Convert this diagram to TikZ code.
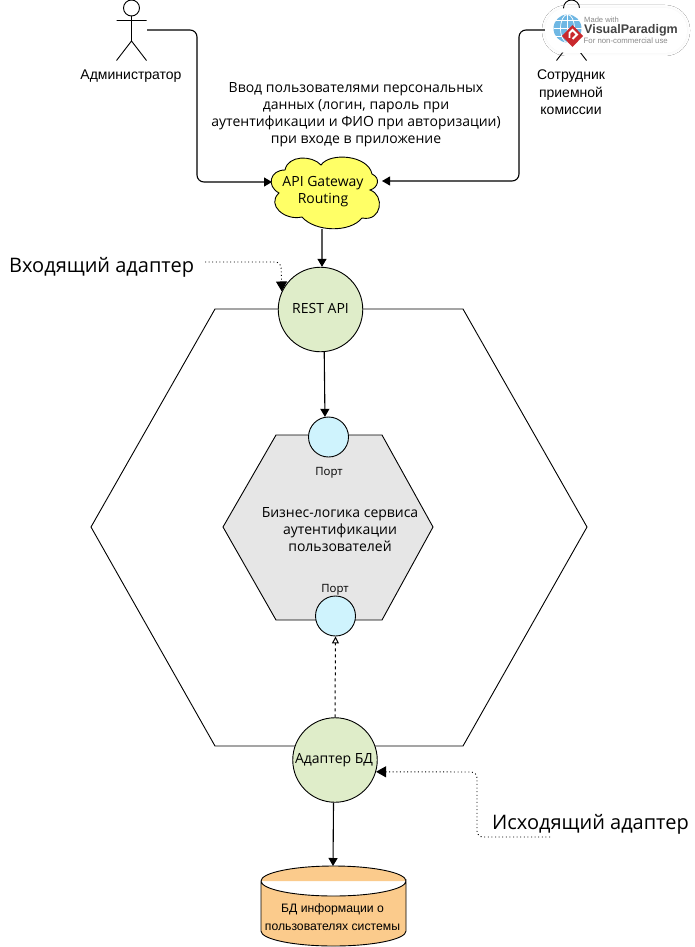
\documentclass[tikz,border=0pt]{standalone}
\usepackage{fontspec}
\setmainfont{Open Sans}
\newfontfamily\armo{Liberation Sans}
\usetikzlibrary{arrows.meta,shadows.blur}
\definecolor{adapterfill}{HTML}{DFEDC9}
\definecolor{portfill}{HTML}{CFF3FD}
\definecolor{corefill}{HTML}{E6E6E6}
\definecolor{cloudfill}{HTML}{FFFF66}
\definecolor{dbfill}{HTML}{FBCB8C}
\definecolor{vpred}{HTML}{C9282D}
\definecolor{vpblue}{HTML}{6FB7E3}
\definecolor{vpgrey}{HTML}{8A8A8A}
\definecolor{vpdark}{HTML}{444444}
\tikzset{
  x=1pt,y=-1pt,
  ln/.style={draw=black,line width=0.9pt},
  conn/.style={draw=black,line width=1.1pt,-{Triangle[length=8pt,width=9pt]},rounded corners=7pt},
  dotconn/.style={draw=black,line width=0.9pt,dash pattern=on 1pt off 2.6pt,-{Triangle[length=10pt,width=11pt,sep=0pt]},rounded corners=6pt},
  adapter/.style={circle,ln,fill=adapterfill,inner sep=0pt,minimum size=84.5pt,align=center,font=\fontsize{14}{16}\selectfont},
  portc/.style={circle,ln,fill=portfill,inner sep=0pt,minimum size=40pt},
  lab/.style={align=center,inner sep=0pt,font=\fontsize{14}{17}\selectfont},
  small/.style={inner sep=0pt,font=\fontsize{11.4}{13}\selectfont},
  big/.style={inner sep=0pt,anchor=west,font=\fontsize{20}{24}\selectfont},
  actorlab/.style={align=center,inner sep=0pt,font=\armo\fontsize{14}{17.3}\selectfont},
  actor/.style={draw=black,line width=0.9pt},
}
\begin{document}
\begin{tikzpicture}
\useasboundingbox (0,0) rectangle (694,947);
\fill[white] (0,0) rectangle (694,947);

% outer hexagon
\draw[ln] (91,527) -- (215,309) -- (463,309) -- (587,527) -- (463,746) -- (215,746) -- cycle;
% inner hexagon
\draw[ln,fill=corefill] (223,527) -- (276,435) -- (382,435) -- (433,527) -- (382,620) -- (276,620) -- cycle;

% actors
\draw[actor] (131.5,8) circle[radius=8];
\draw[actor] (131.5,16) -- (131.5,41) (116.5,20.5) -- (146.5,20.5) (116.5,60.5) -- (131.5,41) -- (146.5,60.5);
\node[actorlab] (admin) at (131,76.5) {Администратор};
\draw[actor] (571.5,8) circle[radius=8];
\draw[actor] (556.5,60.5) -- (571.5,41) -- (586.5,60.5);
\node[actorlab] (staff) at (571,92.3) {Сотрудник\\приемной\\комиссии};
\coordinate (adminR) at (147,30);
\coordinate (staffL) at (546,30);

% cloud
\draw[ln,fill=cloudfill] (279,193)
  .. controls (266,186) and (270,170) .. (285,170)
  .. controls (288,155) and (312,155) .. (321,165)
  .. controls (330,152) and (368,155) .. (372,174)
  .. controls (381,178) and (378,188) .. (370,190)
  .. controls (385,195) and (382,222) .. (362,218)
  .. controls (350,233) and (315,232) .. (302,217)
  .. controls (285,221) and (266,205) .. (279,193) -- cycle;
\node[align=center,inner sep=0pt,font=\fontsize{14}{17}\selectfont] (gw) at (323,192) {API Gateway\\Routing};
\coordinate (gwW) at (272,182);
\coordinate (gwE) at (382,181);
\coordinate (gwS) at (322,229);

% text
\node[lab] (input) at (356,115) {Ввод пользователями персональных\\данных (логин, пароль при\\аутентификации и ФИО при авторизации)\\при входе в приложение};

% adapters and ports
\node[adapter] (rest) at (320.5,309.5) {\raisebox{1.5pt}{REST API}};
\node[adapter] (dbad) at (335,760) {\hspace*{-2pt}\raisebox{-0.5pt}{Адаптер БД}};
\node[portc] (portA) at (328.5,437) {};
\node[portc] (portB) at (335.5,616) {};
\node[small] (portAl) at (329,472.5) {Порт};
\node[small] (portBl) at (335,589.5) {Порт};
\node[lab] (core) at (340,530) {Бизнес-логика сервиса\\аутентификации\\пользователей};

% database
\coordinate (dbT) at (333,866);
\draw[ln,fill=dbfill] (261,881) -- (261,931) arc[start angle=180,end angle=360,x radius=72.5,y radius=-15] -- (406,881) arc[start angle=0,end angle=360,x radius=72.5,y radius=15];
\node[actorlab,font=\armo\fontsize{12.2}{17.5}\selectfont] (db) at (332.5,917) {БД информации о\\пользователях системы};

% side labels
\node[big] (inLab) at (9,267) {Входящий адаптер};
\node[big] (outLab) at (492,824) {Исходящий адаптер};
\coordinate (inS) at (205,262);
\coordinate (outS) at (550,837);

% connectors
\draw[conn] (adminR) -- (197,30) -- (197,182) -- (gwW);
\draw[conn] (staffL) -- (519,30) -- (519,181) -- (gwE);
\draw[conn] (gwS) -- (rest.88);
\draw[conn] (rest.-85) -- (portA.100);
\draw[ln,line width=1pt,dashed,-{Triangle[open,length=7pt,width=7pt]}] (dbad.north) -- (portB.south);
\draw[conn] (dbad.-92) -- (dbT);
\draw[dotconn] (inS) -- (281,262) -- (rest.155);
\draw[dotconn] (outS) -- (477,837) -- (477,772) -- (dbad.-16);

% watermark
\node[fill=white,rounded corners=22pt,minimum width=142pt,minimum height=45pt,inner sep=0pt,blur shadow={shadow blur steps=6,shadow xshift=0pt,shadow yshift=0pt,shadow opacity=5,shadow blur radius=3pt}] (vp) at (616,30.5) {};
\fill[vpblue] (567.5,28.5) circle[radius=14];
\begin{scope}[white,line width=0.7pt]
\draw (567.5,14.5) -- (567.5,42.5) (553.5,28.5) -- (581.5,28.5) (555.5,20.5) -- (579.5,20.5) (555.5,36.5) -- (579.5,36.5);
\draw (567.5,14.5) arc[start angle=90,end angle=270,x radius=7,y radius=-14];
\draw (567.5,14.5) arc[start angle=90,end angle=-90,x radius=7,y radius=-14];
\end{scope}
\fill[vpred] (572.5,25) -- (583,36) -- (572.5,47) -- (562,36) -- cycle;
\draw[white,line width=1.8pt] (569.5,38) -- (569.5,33) -- (572.5,30) -- (577,34.5) -- (572.5,39);
\node[inner sep=0pt,anchor=west,text=vpgrey,font=\armo\fontsize{7.6}{9}\selectfont] (vp1) at (584,20) {Made with};
\node[inner sep=0pt,anchor=west,text=vpdark,font=\armo\bfseries\fontsize{12.5}{15}\selectfont] (vp2) at (584,30.5) {VisualParadigm};
\node[inner sep=0pt,anchor=west,text=vpgrey,font=\armo\fontsize{7.8}{9}\selectfont] (vp3) at (583.5,41) {For non-commercial use};
\end{tikzpicture}
\end{document}
